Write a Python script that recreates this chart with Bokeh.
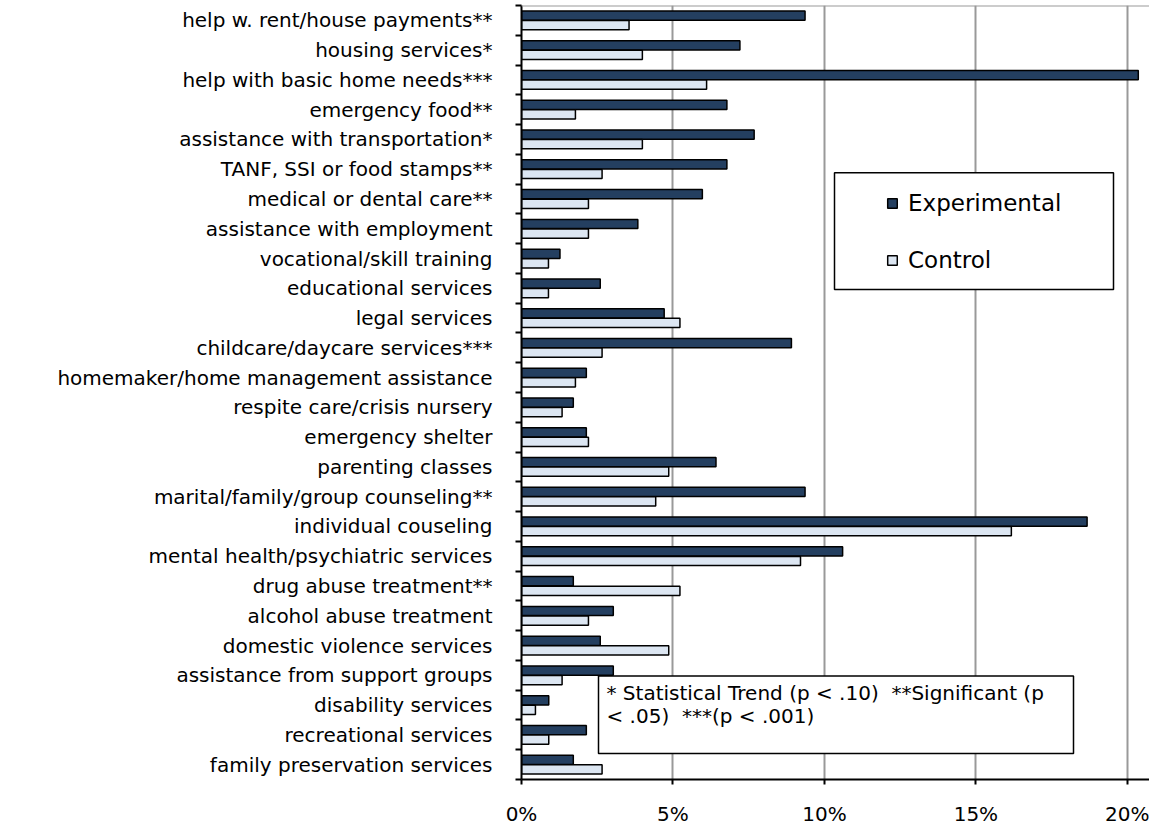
from bokeh.plotting import figure
from bokeh.models import (FixedTicker, Span, BoxAnnotation, Label, Range1d,
                          ColumnDataSource, Legend, LegendItem)
from bokeh.embed import file_html
from bokeh.resources import INLINE

services = [
    "help w. rent/house payments**",
    "housing services*",
    "help with basic home needs***",
    "emergency food**",
    "assistance with transportation*",
    "TANF, SSI or food stamps**",
    "medical or dental care**",
    "assistance with employment",
    "vocational/skill training",
    "educational services",
    "legal services",
    "childcare/daycare services***",
    "homemaker/home management assistance",
    "respite care/crisis nursery",
    "emergency shelter",
    "parenting classes",
    "marital/family/group counseling**",
    "individual couseling",
    "mental health/psychiatric services",
    "drug abuse treatment**",
    "alcohol abuse treatment",
    "domestic violence services",
    "assistance from support groups",
    "disability services",
    "recreational services",
    "family preservation services",
]
experimental = [9.36, 7.21, 20.36, 6.78, 7.68, 6.78, 5.97, 3.84, 1.27, 2.60,
                4.71, 8.91, 2.14, 1.71, 2.14, 6.42, 9.36, 18.67, 10.60, 1.71,
                3.03, 2.60, 3.03, 0.90, 2.14, 1.71]
control = [3.55, 3.99, 6.11, 1.78, 3.99, 2.66, 2.21, 2.21, 0.89, 0.89,
           5.23, 2.66, 1.78, 1.34, 2.21, 4.86, 4.43, 16.17, 9.21, 5.23,
           2.21, 4.86, 1.34, 0.46, 0.90, 2.66]
series = ["Experimental", "Control"]
x_ticks = [0, 5, 10, 15, 20]
x_tick_labels = ["0%", "5%", "10%", "15%", "20%"]
footnote = ["* Statistical Trend (p < .10) \u00a0**Significant (p",
            "< .05) \u00a0***(p < .001)"]

EXP_COLOR = "#243F60"
CTL_COLOR = "#DCE6F2"
GRID_COLOR = "#999999"
FONT = "DejaVu Sans"

n = len(services)
ypos = [n - 1 - i for i in range(n)]

W, H = 1149, 828
BL, BT, BB = 521, 5, 46
XMAX = 20.73
frame_w = W - BL
frame_h = H - BB - BT
frame_bottom = H - BB
px_per_pct = frame_w / XMAX
px_per_row = frame_h / n


def dx(page_x):
    return (page_x - BL) / px_per_pct


def dy(page_y):
    return (n - 0.5) - (page_y - BT) / px_per_row


src = ColumnDataSource(dict(
    y_exp=[y + 0.16 for y in ypos],
    y_ctl=[y - 0.16 for y in ypos],
    exp=experimental,
    ctl=control,
))

p = figure(width=W, height=H, x_range=Range1d(0, XMAX),
           y_range=Range1d(-0.5, n - 0.5),
           output_backend="svg", toolbar_location=None,
           min_border_left=BL, min_border_right=0, min_border_top=BT,
           min_border_bottom=BB)
p.outline_line_color = None
p.background_fill_color = "white"
p.border_fill_color = "white"

r_exp = p.hbar(y="y_exp", left=0, right="exp", height=0.31, source=src,
               fill_color=EXP_COLOR, line_color="black", line_width=1.5)
r_ctl = p.hbar(y="y_ctl", left=0, right="ctl", height=0.31, source=src,
               fill_color=CTL_COLOR, line_color="black", line_width=1.5)

# x axis
p.xaxis.ticker = FixedTicker(ticks=x_ticks, minor_ticks=[])
p.xaxis.major_label_overrides = dict(zip(x_ticks, x_tick_labels))
p.xaxis.axis_line_width = 2
p.xaxis.axis_line_color = "black"
p.xaxis.major_tick_out = 5
p.xaxis.major_tick_in = 0
p.xaxis.major_tick_line_width = 2
p.xaxis.minor_tick_out = 0
p.xaxis.minor_tick_in = 0
p.xaxis.major_label_standoff = 17
p.xaxis.major_label_text_font = FONT
p.xaxis.major_label_text_font_size = "20px"
p.xaxis.major_label_text_color = "black"

# y axis
p.yaxis.ticker = FixedTicker(ticks=ypos, minor_ticks=[k - 0.5 for k in range(n + 1)])
p.yaxis.major_label_overrides = {ypos[i]: services[i] for i in range(n)}
p.yaxis.axis_line_width = 2
p.yaxis.axis_line_color = "black"
p.yaxis.major_tick_out = 0
p.yaxis.major_tick_in = 0
p.yaxis.minor_tick_out = 6
p.yaxis.minor_tick_in = 0
p.yaxis.minor_tick_line_width = 2
p.yaxis.minor_tick_line_color = "black"
p.yaxis.major_label_standoff = 23
p.yaxis.major_label_text_font = FONT
p.yaxis.major_label_text_font_size = "20px"
p.yaxis.major_label_text_color = "black"

# grid
p.xgrid.ticker = FixedTicker(ticks=x_ticks)
p.xgrid.grid_line_color = GRID_COLOR
p.xgrid.grid_line_width = 2
p.ygrid.visible = False
p.add_layout(Span(location=n - 0.5, dimension="width",
                  line_color=GRID_COLOR, line_width=2))

# legend frame + legend
p.add_layout(BoxAnnotation(left=dx(834), right=dx(1113), top=dy(173), bottom=dy(290),
                           fill_color="white", fill_alpha=1.0,
                           line_color="black", line_alpha=1.0, line_width=1.5))
legend = Legend(items=[LegendItem(label=series[0], renderers=[r_exp]),
                       LegendItem(label=series[1], renderers=[r_ctl])],
                location=(886 - BL, frame_bottom - 276),
                glyph_width=12, glyph_height=12, label_standoff=10,
                spacing=31, padding=0, margin=0,
                label_text_font=FONT, label_text_font_size="23px",
                label_text_color="black",
                background_fill_alpha=0, border_line_alpha=0)
p.add_layout(legend, "center")

# footnote box
p.add_layout(BoxAnnotation(left=dx(598), right=dx(1073), top=dy(678), bottom=dy(756),
                           fill_color="white", fill_alpha=1.0,
                           line_color="black", line_alpha=1.0, line_width=1.5))
for i, line in enumerate(footnote):
    p.add_layout(Label(x=dx(606), y=dy(695 + 23.5 * i), text=line,
                       text_font=FONT, text_font_size="20px",
                       text_color="black", text_baseline="middle"))

open("out.html", "w").write(file_html(p, INLINE))
